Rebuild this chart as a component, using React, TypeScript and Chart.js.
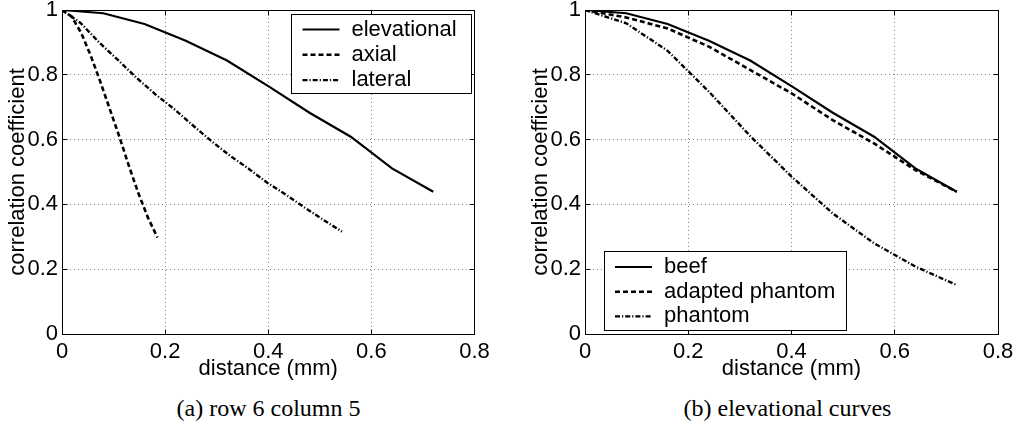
import React, { useEffect, useRef } from "react";
import { Chart, registerables } from "chart.js";

Chart.register(...registerables);

// ---- data ----
const xTickValues = [0, 0.2, 0.4, 0.6, 0.8];
const xTickLabels = ["0", "0.2", "0.4", "0.6", "0.8"];
const yTickValues = [0, 0.2, 0.4, 0.6, 0.8, 1];
const yTickLabels = ["0", "0.2", "0.4", "0.6", "0.8", "1"];

const elevDistance = [0, 0.08, 0.16, 0.24, 0.32, 0.4, 0.48, 0.56, 0.64, 0.72];
const elevational = [1, 0.99, 0.957, 0.905, 0.844, 0.765, 0.683, 0.609, 0.511, 0.439];

const axialDistance = [0, 0.0185, 0.037, 0.0555, 0.074, 0.0925, 0.111, 0.1295, 0.148, 0.1665, 0.185];
const axial = [1, 0.98, 0.93, 0.86, 0.78, 0.695, 0.61, 0.52, 0.435, 0.36, 0.298];

const lateralDistance = [0, 0.036, 0.072, 0.109, 0.145, 0.181, 0.217, 0.253, 0.29, 0.326, 0.362, 0.398, 0.434, 0.471, 0.507, 0.543];
const lateral = [1, 0.96, 0.9, 0.845, 0.79, 0.74, 0.695, 0.645, 0.595, 0.55, 0.51, 0.467, 0.43, 0.39, 0.352, 0.316];

const beef = [1, 0.99, 0.957, 0.905, 0.844, 0.765, 0.683, 0.609, 0.511, 0.439];
const adaptedPhantom = [1, 0.977, 0.943, 0.887, 0.815, 0.743, 0.66, 0.588, 0.506, 0.439];
const phantom = [1, 0.959, 0.874, 0.748, 0.611, 0.486, 0.372, 0.28, 0.208, 0.151];

const captionA = "(a) row 6 column 5";
const captionB = "(b) elevational curves";

// ---- styling ----
const SANS = '"Liberation Sans", Arial, Helvetica, sans-serif';
const SERIF = '"Liberation Serif", "Times New Roman", serif';
const SOLID: number[] = [];
const DASH = [5, 3];
const DASHDOT = [5, 2, 1.2, 2];

const pts = (xs: number[], ys: number[]) => xs.map((x, i) => ({ x, y: ys[i] }));

const line = (label: string, xs: number[], ys: number[], dash: number[], width: number) => ({
  label,
  data: pts(xs, ys),
  borderColor: "#000",
  backgroundColor: "#000",
  borderWidth: width,
  borderDash: dash,
  pointRadius: 0,
  fill: false,
  tension: 0,
});

const align = (p: number) => Math.round(p - 0.5) + 0.5;

const framePlugin = {
  id: "matlabFrame",
  afterDraw(chart: any) {
    const { ctx, chartArea: a, scales } = chart;
    const L = align(a.left), R = align(a.right), T = align(a.top), B = align(a.bottom);
    ctx.save();
    ctx.strokeStyle = "#000";
    ctx.lineWidth = 1;
    ctx.setLineDash([]);
    ctx.strokeRect(L, T, R - L, B - T);
    const tl = 5;
    ctx.beginPath();
    scales.x.ticks.forEach((t: any) => {
      const px = align(scales.x.getPixelForValue(t.value));
      ctx.moveTo(px, B); ctx.lineTo(px, B - tl);
      ctx.moveTo(px, T); ctx.lineTo(px, T + tl);
    });
    scales.y.ticks.forEach((t: any) => {
      const py = align(scales.y.getPixelForValue(t.value));
      ctx.moveTo(L, py); ctx.lineTo(L + tl, py);
      ctx.moveTo(R, py); ctx.lineTo(R - tl, py);
    });
    ctx.stroke();
    ctx.restore();
  },
};

const boxLegendPlugin = {
  id: "boxLegend",
  afterDraw(chart: any, _args: any, opts: any) {
    if (!opts || !opts.w) return;
    const { ctx, chartArea: a } = chart;
    const x = opts.corner === "tr" ? a.right - opts.insetX - opts.w : a.left + opts.insetX;
    const y = opts.corner === "tr" ? a.top + opts.insetY : a.bottom - opts.insetY - opts.h;
    ctx.save();
    ctx.fillStyle = "#fff";
    ctx.fillRect(x, y, opts.w, opts.h);
    ctx.strokeStyle = "#000";
    ctx.lineWidth = 1;
    ctx.setLineDash([]);
    ctx.strokeRect(align(x), align(y), Math.round(opts.w), Math.round(opts.h));
    chart.data.datasets.forEach((ds: any, i: number) => {
      const cy = y + opts.firstRow + i * opts.rowGap;
      ctx.beginPath();
      ctx.setLineDash(ds.borderDash || []);
      ctx.lineWidth = ds.borderWidth;
      ctx.strokeStyle = ds.borderColor;
      ctx.moveTo(x + 11, cy);
      ctx.lineTo(x + 48, cy);
      ctx.stroke();
      ctx.setLineDash([]);
      ctx.fillStyle = "#000";
      ctx.font = `22px ${SANS}`;
      ctx.textBaseline = "middle";
      ctx.textAlign = "left";
      ctx.fillText(ds.label, x + 60, cy);
    });
    ctx.restore();
  },
};

function makeOptions(padRight: number, legend: any) {
  const tickFont = { family: SANS, size: 22 };
  return {
    responsive: false,
    animation: false as const,
    layout: { padding: { left: 0, top: 10, right: padRight, bottom: 0 } },
    plugins: {
      legend: { display: false },
      tooltip: { enabled: false },
      boxLegend: legend,
    },
    scales: {
      x: {
        type: "linear" as const,
        min: 0,
        max: 0.8,
        afterBuildTicks: (s: any) => {
          s.ticks = xTickValues.map((v) => ({ value: v }));
        },
        afterFit: (s: any) => {
          s.height = 48;
          s.paddingLeft = 0;
          s.paddingRight = 0;
        },
        ticks: {
          autoSkip: false,
          maxRotation: 0,
          padding: 5,
          color: "#000",
          font: tickFont,
          callback: (_v: any, i: number) => xTickLabels[i],
        },
        grid: { color: "rgba(0,0,0,0.5)", lineWidth: 1, drawTicks: false },
        border: { display: false, dash: [1, 3] },
        title: {
          display: true,
          text: "distance (mm)",
          color: "#000",
          font: { family: SANS, size: 22 },
          padding: { top: 0, bottom: 0 },
        },
      },
      y: {
        type: "linear" as const,
        min: 0,
        max: 1,
        afterBuildTicks: (s: any) => {
          s.ticks = yTickValues.map((v) => ({ value: v }));
        },
        afterFit: (s: any) => {
          s.width = 62;
          s.paddingTop = 0;
          s.paddingBottom = 0;
        },
        ticks: {
          autoSkip: false,
          padding: 4,
          color: "#000",
          font: tickFont,
          callback: (_v: any, i: number) => yTickLabels[i],
        },
        grid: { color: "rgba(0,0,0,0.5)", lineWidth: 1, drawTicks: false },
        border: { display: false, dash: [1, 3] },
        title: {
          display: true,
          text: "correlation coefficient",
          color: "#000",
          font: { family: SANS, size: 22 },
          padding: { top: 5, bottom: 0 },
        },
      },
    },
  };
}

function CorrChart(props: { left: number; width: number; padRight: number; datasets: any[]; legend: any }) {
  const ref = useRef<HTMLCanvasElement | null>(null);
  useEffect(() => {
    if (!ref.current) return;
    const chart = new Chart(ref.current, {
      type: "line",
      data: { datasets: props.datasets },
      options: makeOptions(props.padRight, props.legend) as any,
      plugins: [framePlugin, boxLegendPlugin],
    });
    return () => chart.destroy();
  }, []);
  return (
    <canvas
      ref={ref}
      width={props.width}
      height={382}
      style={{ position: "absolute", left: props.left, top: 0, width: props.width, height: 382, display: "block" }}
    />
  );
}

export default function App() {
  const leftSets = [
    line("elevational", elevDistance, elevational, SOLID, 2.2),
    line("axial", axialDistance, axial, DASH, 2.6),
    line("lateral", lateralDistance, lateral, DASHDOT, 2.4),
  ];
  const rightSets = [
    line("beef", elevDistance, beef, SOLID, 2.2),
    line("adapted phantom", elevDistance, adaptedPhantom, DASH, 2.6),
    line("phantom", elevDistance, phantom, DASHDOT, 2.4),
  ];
  const capStyle = (cx: number): React.CSSProperties => ({
    position: "absolute",
    left: cx - 200,
    width: 400,
    top: 396,
    textAlign: "center",
    fontFamily: SERIF,
    fontSize: 24,
    lineHeight: "24px",
    color: "#000",
    whiteSpace: "nowrap",
  });
  return (
    <div style={{ position: "absolute", left: 0, top: 0, width: 1017, height: 434, background: "#fff", overflow: "hidden" }}>
      <CorrChart
        left={0}
        width={500}
        padRight={25.5}
        datasets={leftSets}
        legend={{ corner: "tr", w: 180, h: 79, insetX: 3, insetY: 4, firstRow: 15.5, rowGap: 25.3 }}
      />
      <CorrChart
        left={523}
        width={494}
        padRight={19}
        datasets={rightSets}
        legend={{ corner: "bl", w: 242, h: 79, insetX: 19, insetY: 4, firstRow: 16, rowGap: 24.7 }}
      />
      <div style={capStyle(268.5)}>{captionA}</div>
      <div style={capStyle(787.5)}>{captionB}</div>
    </div>
  );
}
